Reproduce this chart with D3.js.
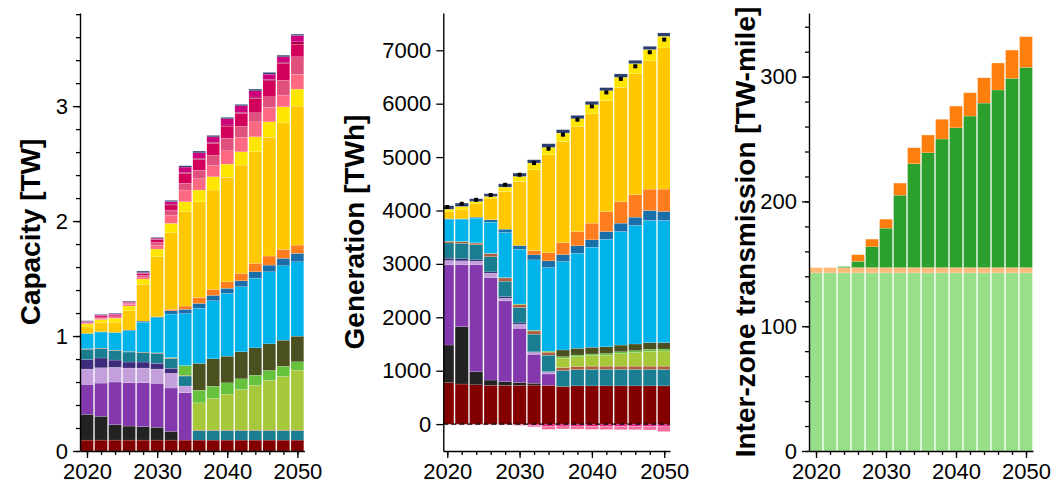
<!DOCTYPE html>
<html>
<head>
<meta charset="utf-8">
<script src="https://cdn.jsdelivr.net/npm/d3@7"></script>
<style>
  body { margin: 0; background: #fff; }
  text { font-family: "Liberation Sans", Arial, Helvetica, sans-serif; fill: #000; }
</style>
</head>
<body>
<svg id="chart" width="1056" height="491"></svg>
<script>
// ---- model years (bars every two years) ----
const years = [2020,2022,2024,2026,2028,2030,2032,2034,2036,2038,2040,2042,2044,2046,2048,2050];

// ---- installed capacity by technology [TW] ----
const capNuclear  = [0.095,0.095,0.095,0.095,0.095,0.095,0.095,0.095,0.095,0.095,0.095,0.095,0.095,0.095,0.095,0.095];
const capCoal     = [0.224,0.207,0.134,0.122,0.117,0.111,0.076,0,0,0,0,0,0,0,0,0];
const capGasCC    = [0.261,0.289,0.371,0.377,0.382,0.383,0.377,0.412,0,0,0,0,0,0,0,0];
const capGasCT    = [0.133,0.133,0.128,0.128,0.128,0.124,0.128,0.058,0,0,0,0,0,0,0,0];
const capOGS      = [0.084,0.085,0.063,0.052,0.052,0.049,0.043,0,0,0,0,0,0,0,0,0];
const capHydro    = [0.087,0.081,0.081,0.087,0.081,0.087,0.084,0.087,0.082,0.082,0.082,0.082,0.082,0.082,0.082,0.082];
const capBio      = [0.005,0.005,0.005,0.005,0.005,0.005,0.005,0.005,0.005,0.005,0.005,0.005,0.005,0.005,0.005,0.005];
const capCCS      = [0,0,0,0,0,0,0,0,0.237,0.275,0.313,0.353,0.388,0.432,0.467,0.521];
const capH2CT     = [0,0,0,0,0,0,0.005,0.087,0.110,0.107,0.098,0.093,0.090,0.087,0.089,0.073];
const capGeo      = [0,0,0,0,0,0,0,0,0.233,0.238,0.232,0.235,0.237,0.231,0.226,0.223];
const capWindOns  = [0.131,0.140,0.152,0.180,0.260,0.306,0.378,0.451,0.479,0.505,0.546,0.566,0.605,0.627,0.647,0.647];
const capWindOfs  = [0.003,0.003,0.003,0.006,0.010,0.008,0.029,0.037,0.043,0.047,0.044,0.052,0.057,0.058,0.065,0.073];
const capCSP      = [0,0,0,0,0,0,0.013,0.029,0.052,0.052,0.057,0.064,0.073,0.079,0.078,0.072];
const capUPV      = [0.056,0.081,0.089,0.168,0.320,0.522,0.665,0.820,0.832,0.864,0.908,0.942,0.971,1.032,1.101,1.209];
const capDistPV   = [0.026,0.025,0.034,0.041,0.046,0.067,0.082,0.087,0.102,0.115,0.116,0.116,0.130,0.135,0.139,0.148];
const capBatt2    = [0.006,0.012,0.011,0.014,0.017,0.034,0.072,0.102,0.098,0.102,0.115,0.125,0.130,0.126,0.102,0.130];
const capBatt4    = [0.005,0.010,0.010,0.010,0.017,0.026,0.044,0.058,0.075,0.087,0.108,0.098,0.079,0.092,0.130,0.151];
const capBatt6    = [0.005,0.010,0.010,0.008,0.015,0.022,0.044,0.087,0.094,0.102,0.107,0.111,0.125,0.139,0.145,0.110];
const capBatt8    = [0.002,0.002,0.002,0.002,0.002,0.004,0.008,0.010,0.010,0.010,0.010,0.010,0.012,0.012,0.012,0.020];
const capBatt10   = [0.005,0.005,0.006,0.005,0.005,0.009,0.022,0.045,0.047,0.047,0.054,0.056,0.054,0.046,0.046,0.055];
const capPumped   = [0.005,0.005,0.005,0.005,0.013,0.006,0.010,0.011,0.015,0.012,0.012,0.012,0.015,0.015,0.014,0.012];

// ---- annual generation by technology [TWh] ----
const genNuclear  = [775,750,735,725,725,725,730,725,705,715,715,715,715,715,715,715];
const genCoal     = [706,1075,246,100,70,55,35,0,0,0,0,0,0,0,0,0];
const genGasCC    = [1500,1156,2000,1919,1511,1014,541,213,0,0,0,0,0,0,0,0];
const genGasCT    = [82,75,69,81,50,75,38,43,0,0,0,0,0,0,0,0];
const genOGS      = [44,38,25,25,30,25,10,0,0,0,0,0,0,0,0,0];
const genHydro    = [285,290,285,285,290,290,330,310,300,305,310,310,310,310,310,310];
const genBio      = [30,30,30,55,60,55,60,55,55,60,60,60,60,60,60,60];
const genCCS      = [0,0,0,0,0,0,0,0,173,184,198,205,235,255,278,284];
const genH2CT     = [5,5,5,5,8,10,12,20,30,30,30,32,35,35,37,37];
const genGeo      = [0,0,0,0,0,0,0,0,125,125,125,125,125,125,125,119];
const genWindOns  = [411,419,462,586,844,1026,1319,1565,1656,1781,1875,2016,2126,2219,2288,2288];
const genWindOfs  = [7,5,18,44,62,69,94,125,131,140,137,143,157,156,187,168];
const genCSP      = [0,0,0,0,0,0,81,157,225,266,313,375,406,419,400,419];
const genUPV      = [136,182,250,406,706,1200,1513,1831,1894,1969,2050,2075,2137,2269,2401,2644];
const genDistPV   = [44,50,44,32,82,94,125,137,156,144,168,188,187,187,212,218];
const genStorage  = [63,63,50,50,62,62,62,69,63,62,62,56,64,62,61,63];
const genChargeA  = [-4,-4,-5,-6,-8,-12,-22,-40,-36,-38,-40,-40,-42,-42,-44,-50];
const genChargeB  = [-3,-3,-4,-5,-8,-12,-30,-60,-55,-57,-60,-62,-63,-63,-66,-90];
const genDemand   = [4065,4125,4200,4290,4481,4669,4888,5156,5419,5700,5950,6212,6463,6700,6963,7200];

// ---- inter-zone transmission capacity [TW-mile] ----
const trAcExisting  = [142.7,142.7,142.7,142.7,142.7,142.7,142.7,142.7,142.7,142.7,142.7,142.7,142.7,142.7,142.7,142.7];
const trDcExisting  = [4.3,4.3,4.3,4.3,4.3,4.3,4.3,4.3,4.3,4.3,4.3,4.3,4.3,4.3,4.3,4.3];
const trAcNew       = [0,0,0.8,5,16.6,31.6,58,83.2,92,103,112,121.4,131.8,142.3,151.6,160.4];
const trDcNew       = [0,0,0,5.3,6.2,7.2,9.7,12.8,14.2,15.8,17.4,18.7,20.3,21.6,22.7,24.6];

// ---- tick values ----
const xMajorTicks = [2020, 2030, 2040, 2050];
const capTicks = [0, 1, 2, 3];
const genTicks = [0, 1000, 2000, 3000, 4000, 5000, 6000, 7000];
const trTicks = [0, 100, 200, 300];

// ---- technology colours ----
const colors = {
  nuclear: "#820000", coal: "#222222", gascc: "#8339ad", gasct: "#c3a0dc", ogs: "#3f2b7b",
  hydro: "#1a7d92", bio: "#b15e3c", ccs: "#a8c83c", h2ct: "#66c23c", geo: "#4b5020",
  windons: "#00b4eb", windofs: "#1a6eaa", csp: "#ff7d1e", upv: "#ffc800", distpv: "#ffe600",
  batt2: "#ff6982", batt4: "#e0507d", batt6: "#d2005a", batt8: "#aa0046", batt10: "#cd007d",
  pumped: "#2b3e6e", chargeA: "#e8288a", chargeB: "#f26c9c",
  acOld: "#98df8a", dcOld: "#ffbb78", acNew: "#2ca02c", dcNew: "#ff7f0e"
};

const capSeries = [
  ["nuclear", capNuclear], ["coal", capCoal], ["gascc", capGasCC], ["gasct", capGasCT], ["ogs", capOGS],
  ["hydro", capHydro], ["bio", capBio], ["ccs", capCCS], ["h2ct", capH2CT], ["geo", capGeo],
  ["windons", capWindOns], ["windofs", capWindOfs], ["csp", capCSP], ["upv", capUPV], ["distpv", capDistPV],
  ["batt2", capBatt2], ["batt4", capBatt4], ["batt6", capBatt6], ["batt8", capBatt8], ["batt10", capBatt10],
  ["pumped", capPumped]
];
const genSeries = [
  ["nuclear", genNuclear], ["coal", genCoal], ["gascc", genGasCC], ["gasct", genGasCT], ["ogs", genOGS],
  ["hydro", genHydro], ["bio", genBio], ["ccs", genCCS], ["h2ct", genH2CT], ["geo", genGeo],
  ["windons", genWindOns], ["windofs", genWindOfs], ["csp", genCSP], ["upv", genUPV], ["distpv", genDistPV],
  ["pumped", genStorage], ["chargeA", genChargeA], ["chargeB", genChargeB]
];
const trSeries = [["acOld", trAcExisting], ["dcOld", trDcExisting], ["acNew", trAcNew], ["dcNew", trDcNew]];

const svg = d3.select("#chart");
const TOP = 13, BOTTOM = 451;
const GAP = 0.6;   // white gap on each side of a bar

function drawPanel(cfg) {
  const g = svg.append("g");
  const x = d3.scaleLinear().domain(cfg.xDomain).range([cfg.x0, cfg.x1]);
  const y = d3.scaleLinear().domain(cfg.yDomain).range([BOTTOM, TOP]);

  // build the per-year table and stack it (negatives stack downward)
  const keys = cfg.series.map(s => s[0]);
  const table = years.map((yr, i) => {
    const row = { year: yr };
    cfg.series.forEach(([k, v]) => row[k] = v[i]);
    return row;
  });
  const stacked = d3.stack().keys(keys).offset(d3.stackOffsetDiverging)(table);

  const clipId = "clip-" + cfg.id;
  g.append("clipPath").attr("id", clipId).append("rect")
    .attr("x", cfg.x0).attr("y", TOP).attr("width", cfg.x1 - cfg.x0).attr("height", BOTTOM - TOP);

  const plot = g.append("g").attr("clip-path", `url(#${clipId})`);
  plot.selectAll("g.layer").data(stacked).join("g")
    .attr("class", "layer")
    .attr("fill", d => colors[d.key])
    .selectAll("rect").data(d => d.filter(s => s[1] !== s[0])).join("rect")
    .attr("x", d => x(d.data.year - 1) + GAP)
    .attr("width", d => x(d.data.year + 1) - x(d.data.year - 1) - 2 * GAP)
    .attr("y", d => y(Math.max(d[0], d[1])))
    .attr("height", d => Math.abs(y(d[0]) - y(d[1])))
    .attr("stroke", "#fff")
    .attr("stroke-opacity", 0.5)
    .attr("stroke-width", 0.3);

  if (cfg.after) cfg.after(plot, x, y);

  // x axis: minor ticks every two years, labelled majors every decade
  const xa = g.append("g").attr("transform", `translate(0,${BOTTOM})`);
  xa.call(d3.axisBottom(x).tickValues(years).tickSize(4).tickSizeOuter(0).tickFormat(""));
  const xb = g.append("g").attr("transform", `translate(0,${BOTTOM})`);
  xb.call(d3.axisBottom(x).tickValues(xMajorTicks).tickSize(7).tickSizeOuter(0).tickPadding(5).tickFormat(d3.format("d")));
  xb.select(".domain").remove();

  // y axis
  const ya = g.append("g").attr("transform", `translate(${cfg.x0},0)`);
  ya.call(d3.axisLeft(y).tickValues(cfg.minorTicks || []).tickSize(4).tickSizeOuter(0).tickFormat(""));
  const yb = g.append("g").attr("transform", `translate(${cfg.x0},0)`);
  yb.call(d3.axisLeft(y).tickValues(cfg.majorTicks).tickSize(7).tickSizeOuter(0).tickPadding(5).tickFormat(cfg.fmt));
  yb.select(".domain").remove();

  g.selectAll(".domain").attr("stroke", "#000").attr("stroke-width", 1.4);
  g.selectAll(".tick line").attr("stroke", "#000").attr("stroke-width", 1.3);
  g.selectAll(".tick text").style("font-size", "22px").attr("fill", "#000");

  g.append("text")
    .attr("transform", `translate(${cfg.labelX},${(TOP + BOTTOM) / 2}) rotate(-90)`)
    .attr("text-anchor", "middle")
    .style("font-size", "28px").style("font-weight", "bold")
    .text(cfg.label);
}

// capacity panel
drawPanel({
  id: "cap", x0: 80, x1: 304.4, xDomain: [2019, 2051], yDomain: [0, 3.81],
  series: capSeries, majorTicks: capTicks,
  minorTicks: d3.range(0, 3.81, 0.2).map(v => +v.toFixed(1)),
  fmt: d3.format("d"), label: "Capacity [TW]", labelX: 40
});

// generation panel with zero line and demand markers
drawPanel({
  id: "gen", x0: 443.3, x1: 670, xDomain: [2019.45, 2050.8], yDomain: [-504, 7698],
  series: genSeries, majorTicks: genTicks, minorTicks: [],
  fmt: d3.format("d"), label: "Generation [TWh]", labelX: 364,
  after: (plot, x, y) => {
    plot.append("line")
      .attr("x1", x(2019.45)).attr("x2", x(2050.8))
      .attr("y1", y(0)).attr("y2", y(0))
      .attr("stroke", "#000").attr("stroke-width", 1.4).attr("stroke-dasharray", "5,3");
    plot.selectAll("rect.demand").data(years).join("rect")
      .attr("class", "demand")
      .attr("x", (d) => x(d) - 2).attr("y", (d, i) => y(genDemand[i]) - 2)
      .attr("width", 4).attr("height", 4).attr("fill", "#000");
  }
});

// transmission panel
drawPanel({
  id: "tr", x0: 809, x1: 1033, xDomain: [2019, 2051], yDomain: [0, 351],
  series: trSeries, majorTicks: trTicks, minorTicks: d3.range(0, 351, 20),
  fmt: d3.format("d"), label: "Inter-zone transmission [TW-mile]", labelX: 755
});
</script>
</body>
</html>
